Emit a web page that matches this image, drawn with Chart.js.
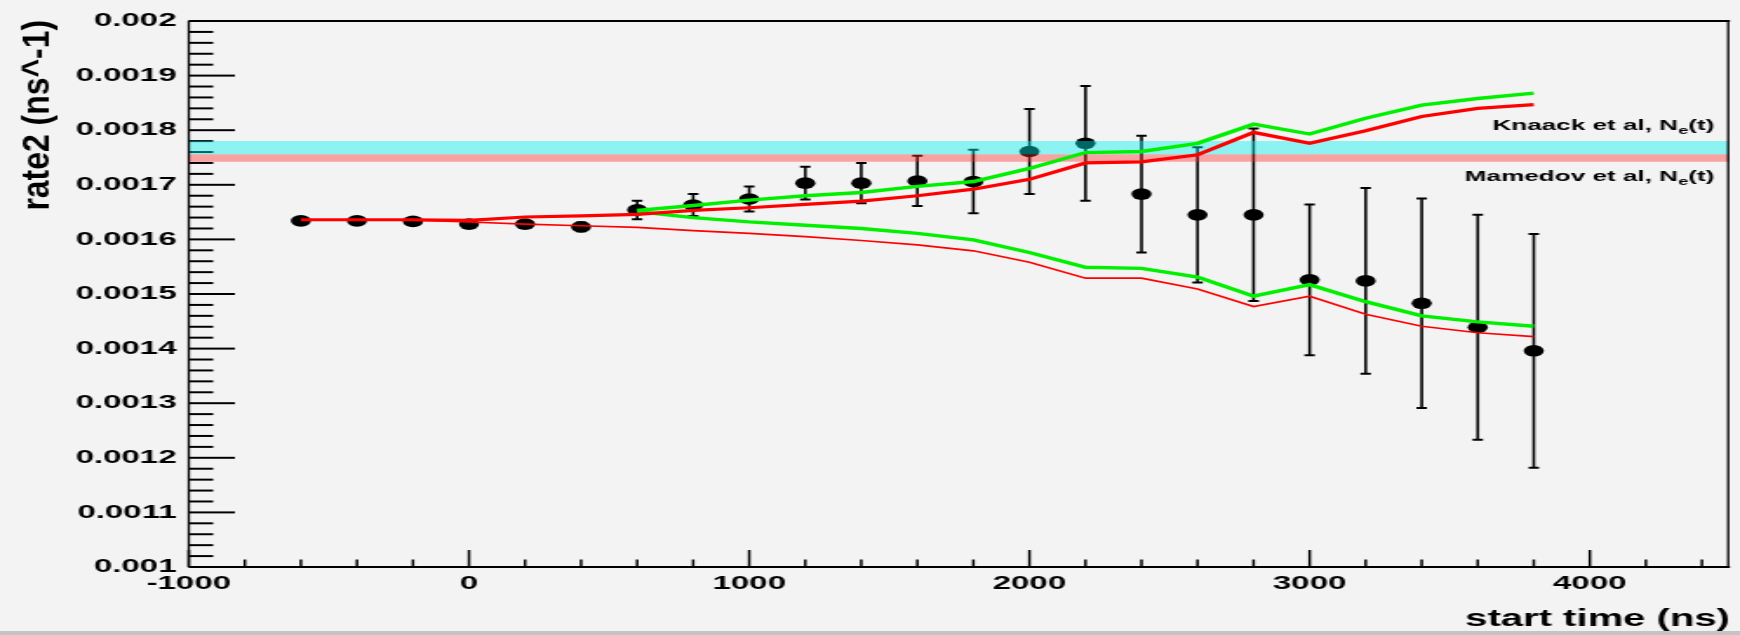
<!DOCTYPE html>
<html>
<head>
<meta charset="utf-8">
<script src="https://cdn.jsdelivr.net/npm/chart.js@4.4.1/dist/chart.umd.min.js"></script>
<style>
  html, body { margin: 0; padding: 0; background: #f3f3f3; overflow: hidden; }
  #c { display: block; }
  .bottom-bar { height: 4px; background: #c4c4c4; }
</style>
</head>
<body>
<canvas id="c" width="1000" height="631" style="width:1740px;height:631px;"></canvas>
<div class="bottom-bar"></div>
<script>
// start times (ns) of the measured points
const startTime = [-600, -400, -200, 0, 200, 400, 600, 800, 1000, 1200, 1400, 1600,
    1800, 2000, 2200, 2400, 2600, 2800, 3000, 3200, 3400, 3600, 3800];
const rate2 = [0.001634, 0.001634, 0.001633, 0.001628, 0.001628, 0.001623, 0.001654, 0.001663,
    0.001674, 0.001703, 0.001703, 0.001707, 0.001706, 0.001761, 0.001776, 0.001683, 0.001645,
    0.001645, 0.001526, 0.001524, 0.001483, 0.001439, 0.001396];
const rate2Err = [0.000004, 0.000004, 0.000004, 0.000005, 0.000005, 0.000008, 0.000017, 0.00002,
    0.000023, 0.00003, 0.000037, 0.000046, 0.000058, 0.000078, 0.000105, 0.000107, 0.000124,
    0.000158, 0.000138, 0.00017, 0.000192, 0.000206, 0.000214];

// red model curves (same start times)
const redUpper = [0.001636, 0.001636, 0.001636, 0.001635, 0.001641, 0.001643, 0.001646, 0.001653,
    0.001658, 0.001664, 0.00167, 0.00168, 0.001692, 0.00171, 0.00174, 0.001742, 0.001755,
    0.001796, 0.001776, 0.001799, 0.001825, 0.00184, 0.001847];
const redLower = [0.001636, 0.001636, 0.001635, 0.001632, 0.001628, 0.001625, 0.001622, 0.001616,
    0.001611, 0.001605, 0.001598, 0.00159, 0.001579, 0.001558, 0.001529, 0.001529, 0.001509,
    0.001477, 0.001496, 0.001463, 0.001441, 0.001429, 0.001422];

// green model curves start at 600 ns
const greenTime = [600, 800, 1000, 1200, 1400, 1600, 1800, 2000, 2200, 2400, 2600, 2800,
    3000, 3200, 3400, 3600, 3800];
const greenUpper = [0.001653, 0.001662, 0.001672, 0.00168, 0.001686, 0.001697, 0.001706, 0.00173,
    0.001759, 0.001761, 0.001776, 0.001811, 0.001793, 0.001822, 0.001846, 0.001858, 0.001868];
const greenLower = [0.001651, 0.00164, 0.001632, 0.001626, 0.00162, 0.001611, 0.001599, 0.001576,
    0.001549, 0.001547, 0.001531, 0.001496, 0.001517, 0.001486, 0.00146, 0.001449, 0.001441];

// reference bands [low, high]
const knaackBand = [0.001756, 0.00178];
const mamedovBand = [0.001742, 0.001756];
const bandSpan = [-1000, 4500];

const xTicks = [-1000, 0, 1000, 2000, 3000, 4000];
const xTickLabels = ['-1000', '0', '1000', '2000', '3000', '4000'];
const yTicks = [0.001, 0.0011, 0.0012, 0.0013, 0.0014, 0.0015, 0.0016, 0.0017, 0.0018, 0.0019, 0.002];
const yTickLabels = ['0.001', '0.0011', '0.0012', '0.0013', '0.0014', '0.0015', '0.0016',
    '0.0017', '0.0018', '0.0019', '0.002'];

const FONT = '"Liberation Sans", Arial, sans-serif';

function pts(xs, ys) {
    return xs.map((x, i) => ({ x: x, y: ys[i] }));
}

function flat(value) {
    return bandSpan.map(x => ({ x: x, y: value }));
}

// error bars go under the markers
const errorBars = {
    id: 'errorBars',
    beforeDatasetsDraw(chart) {
        const { ctx, scales: { x, y } } = chart;
        ctx.save();
        ctx.strokeStyle = '#000';
        startTime.forEach((t, i) => {
            const px = x.getPixelForValue(t);
            const top = y.getPixelForValue(rate2[i] + rate2Err[i]);
            const bot = y.getPixelForValue(rate2[i] - rate2Err[i]);
            ctx.lineWidth = 1.6;
            ctx.beginPath();
            ctx.moveTo(px, top);
            ctx.lineTo(px, bot);
            ctx.stroke();
            ctx.lineWidth = 2;
            ctx.beginPath();
            ctx.moveTo(px - 3, top); ctx.lineTo(px + 3, top);
            ctx.moveTo(px - 3, bot); ctx.lineTo(px + 3, bot);
            ctx.stroke();
        });
        ctx.restore();
    }
};

// ROOT style ticks pointing into the frame
const innerTicks = {
    id: 'innerTicks',
    beforeDatasetsDraw(chart) {
        const { ctx, chartArea: a, scales: { x, y } } = chart;
        ctx.save();
        ctx.strokeStyle = '#000';
        ctx.lineWidth = 2;
        for (let k = 0; k <= 50; k++) {
            const py = y.getPixelForValue(0.001 + k * 0.00002);
            const len = k % 5 === 0 ? 26.5 : 14;
            ctx.beginPath();
            ctx.moveTo(a.left, py);
            ctx.lineTo(a.left + len, py);
            ctx.stroke();
        }
        ctx.lineWidth = 1.5;
        for (let k = 0; k <= 27; k++) {
            const v = -1000 + k * 200;
            const px = x.getPixelForValue(v);
            const len = k % 5 === 0 ? 17 : 7.5;
            ctx.beginPath();
            ctx.moveTo(px, a.bottom);
            ctx.lineTo(px, a.bottom - len);
            ctx.stroke();
        }
        ctx.restore();
    }
};

function drawSubLabel(ctx, right, py, main, sub, tail) {
    const big = 'bold 15px ' + FONT;
    const small = 'bold 10.5px ' + FONT;
    ctx.font = big;
    const w1 = ctx.measureText(main).width;
    const w3 = ctx.measureText(tail).width;
    ctx.font = small;
    const w2 = ctx.measureText(sub).width;
    let px = right - (w1 + w2 + w3);
    ctx.textBaseline = 'middle';
    ctx.textAlign = 'left';
    ctx.font = big;
    ctx.fillText(main, px, py);
    px += w1;
    ctx.font = small;
    ctx.fillText(sub, px, py + 5);
    px += w2;
    ctx.font = big;
    ctx.fillText(tail, px, py);
}

const frameAndText = {
    id: 'frameAndText',
    afterDraw(chart) {
        const { ctx, chartArea: a, scales: { y } } = chart;
        ctx.save();
        ctx.fillStyle = '#000';
        drawSubLabel(ctx, a.right - 9, y.getPixelForValue(0.0018075), 'Knaack et al, N', 'e', '(t)');
        drawSubLabel(ctx, a.right - 9, y.getPixelForValue(0.0017143), 'Mamedov et al, N', 'e', '(t)');

        // frame
        ctx.strokeStyle = '#000';
        ctx.lineWidth = 2;
        ctx.beginPath();
        ctx.moveTo(a.left, a.top); ctx.lineTo(a.right, a.top);
        ctx.moveTo(a.left, a.bottom); ctx.lineTo(a.right, a.bottom);
        ctx.stroke();
        ctx.lineWidth = 1.3;
        ctx.beginPath();
        ctx.moveTo(a.left, a.top); ctx.lineTo(a.left, a.bottom);
        ctx.moveTo(a.right - 1, a.top); ctx.lineTo(a.right - 1, a.bottom);
        ctx.stroke();

        // y axis title, rotated
        ctx.translate(22, a.top - 1);
        ctx.rotate(-Math.PI / 2);
        ctx.scale(1.45, 1);
        ctx.font = 'bold 22px ' + FONT;
        ctx.textAlign = 'right';
        ctx.textBaseline = 'middle';
        ctx.fillText('rate2 (ns^-1)', 0, 0);
        ctx.restore();
    }
};

const lineStyle = { showLine: true, pointRadius: 0, tension: 0, fill: false, order: 0 };
const bandStyle = { showLine: true, pointRadius: 0, borderWidth: 0, order: 1 };

new Chart(document.getElementById('c'), {
    type: 'scatter',
    data: {
        datasets: [
            Object.assign({ data: flat(knaackBand[1]), fill: '+1', backgroundColor: 'rgba(0, 240, 240, 0.42)' }, bandStyle),
            Object.assign({ data: flat(knaackBand[0]), fill: false }, bandStyle),
            Object.assign({ data: flat(mamedovBand[1]), fill: '+1', backgroundColor: 'rgba(255, 40, 40, 0.4)' }, bandStyle),
            Object.assign({ data: flat(mamedovBand[0]), fill: false }, bandStyle),
            Object.assign({ data: pts(startTime, redUpper), borderColor: '#ff0000', borderWidth: 3.2 }, lineStyle),
            Object.assign({ data: pts(startTime, redLower), borderColor: '#ff0000', borderWidth: 1.6 }, lineStyle),
            Object.assign({ data: pts(greenTime, greenUpper), borderColor: '#00f000', borderWidth: 3.4 }, lineStyle),
            Object.assign({ data: pts(greenTime, greenLower), borderColor: '#00f000', borderWidth: 3.4 }, lineStyle),
            {
                data: pts(startTime, rate2),
                pointRadius: 5.8,
                pointBackgroundColor: '#000',
                pointBorderWidth: 0,
                order: 2
            }
        ]
    },
    options: {
        responsive: false,
        animation: false,
        devicePixelRatio: 1,
        layout: { padding: { top: 21, right: 1.4, left: 0, bottom: 0 } },
        plugins: { legend: { display: false }, tooltip: { enabled: false } },
        scales: {
            x: {
                type: 'linear',
                min: -1000,
                max: 4500,
                afterBuildTicks: s => { s.ticks = xTicks.map(v => ({ value: v })); },
                afterFit: s => { s.height = 64; },
                grid: { display: false, drawTicks: false },
                border: { display: false },
                ticks: {
                    autoSkip: false,
                    maxRotation: 0,
                    padding: 5,
                    color: '#000',
                    font: { family: FONT, size: 19, weight: 'bold' },
                    callback: (v, i) => xTickLabels[i]
                },
                title: {
                    display: true,
                    text: 'start time (ns)',
                    align: 'end',
                    color: '#000',
                    padding: 0,
                    font: { family: FONT, size: 23, weight: 'bold', lineHeight: 1 }
                }
            },
            y: {
                type: 'linear',
                min: 0.001,
                max: 0.002,
                afterBuildTicks: s => { s.ticks = yTicks.map(v => ({ value: v })); },
                afterFit: s => { s.width = 108.5; },
                grid: { display: false, drawTicks: false },
                border: { display: false },
                ticks: {
                    autoSkip: false,
                    padding: 7,
                    color: '#000',
                    font: { family: FONT, size: 19, weight: 'bold' },
                    callback: (v, i) => yTickLabels[i]
                }
            }
        }
    },
    plugins: [innerTicks, errorBars, frameAndText]
});
</script>
</body>
</html>
